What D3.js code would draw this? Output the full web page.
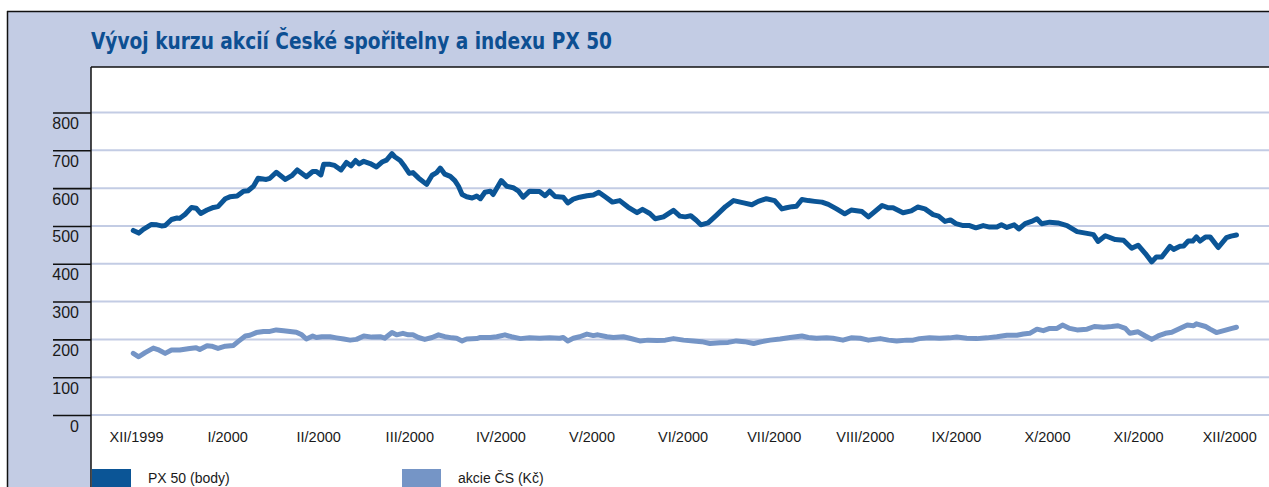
<!DOCTYPE html>
<html>
<head>
<meta charset="utf-8">
<script src="https://cdn.jsdelivr.net/npm/d3@7"></script>
<style>
	body { margin: 0; background: #fff; overflow: hidden; }
	svg { display: block; }
	.title { font-family: "Liberation Sans Narrow", "DejaVu Sans Condensed", sans-serif; font-weight: bold; fill: #0d4f92; }
	.lbl { font-family: "Liberation Sans", Arial, sans-serif; fill: #1a1a1a; }
</style>
</head>
<body>
<svg width="1269" height="487"></svg>
<script>

// month labels, one per month from XII/1999
var months = ["XII/1999", "I/2000", "II/2000", "III/2000", "IV/2000", "V/2000", "VI/2000",
	"VII/2000", "VIII/2000", "IX/2000", "X/2000", "XI/2000", "XII/2000"];

var yTicks = [0, 100, 200, 300, 400, 500, 600, 700, 800];

// [months since start of XII/1999, value]
var px50 = [
	[-0.03,488],[0.03,481],[0.08,491],[0.17,504],[0.23,503],[0.28,500],[0.32,501],[0.39,517],[0.45,521],[0.48,520],
	[0.54,531],[0.61,549],[0.66,547],[0.71,533],[0.78,542],[0.85,549],[0.90,551],[0.98,572],[1.03,577],[1.11,579],
	[1.18,592],[1.23,593],[1.29,605],[1.34,626],[1.43,623],[1.47,626],[1.54,642],[1.64,623],[1.71,633],[1.77,648],
	[1.87,630],[1.94,644],[1.98,644],[2.03,635],[2.06,663],[2.13,663],[2.18,660],[2.25,648],[2.31,668],[2.36,659],
	[2.41,673],[2.45,664],[2.50,671],[2.57,665],[2.64,656],[2.70,669],[2.75,674],[2.81,691],[2.84,683],[2.90,673],
	[2.95,657],[3.00,639],[3.04,641],[3.10,627],[3.19,610],[3.25,634],[3.30,641],[3.34,653],[3.39,637],[3.45,631],
	[3.50,620],[3.54,605],[3.58,583],[3.63,577],[3.69,574],[3.74,579],[3.78,572],[3.83,589],[3.89,592],[3.92,583],
	[4.01,620],[4.07,605],[4.14,601],[4.20,592],[4.25,576],[4.32,592],[4.43,591],[4.49,580],[4.54,592],[4.60,578],
	[4.69,576],[4.74,561],[4.80,571],[4.87,576],[4.95,580],[5.02,582],[5.08,589],[5.15,577],[5.23,563],[5.31,567],
	[5.40,550],[5.50,535],[5.56,544],[5.64,533],[5.70,519],[5.79,524],[5.90,541],[5.97,526],[6.03,524],[6.09,527],
	[6.15,515],[6.20,503],[6.28,508],[6.37,528],[6.47,551],[6.56,567],[6.67,561],[6.76,556],[6.83,565],[6.92,572],
	[7.01,567],[7.09,545],[7.14,548],[7.20,551],[7.25,552],[7.31,570],[7.38,567],[7.45,565],[7.53,563],[7.60,557],
	[7.69,545],[7.78,532],[7.85,542],[7.97,538],[8.04,524],[8.19,554],[8.26,548],[8.31,548],[8.42,535],[8.51,540],
	[8.58,550],[8.66,545],[8.75,530],[8.81,526],[8.88,512],[8.94,516],[9.00,506],[9.08,501],[9.15,501],[9.22,495],
	[9.30,501],[9.37,497],[9.45,497],[9.50,503],[9.56,496],[9.64,503],[9.69,492],[9.76,506],[9.83,512],[9.89,519],
	[9.94,506],[10.03,510],[10.12,508],[10.22,501],[10.33,485],[10.47,479],[10.51,477],[10.56,459],[10.64,474],[10.75,464],
	[10.84,462],[10.93,441],[11.00,449],[11.08,427],[11.15,405],[11.20,418],[11.26,418],[11.35,446],[11.39,438],[11.46,446],
	[11.50,447],[11.55,460],[11.60,460],[11.64,471],[11.68,460],[11.74,471],[11.79,471],[11.88,443],[11.97,469],[12.02,473],
	[12.08,476]
];

var akcieCS = [
	[-0.03,163],[0.03,154],[0.10,165],[0.19,177],[0.24,173],[0.32,163],[0.39,172],[0.48,172],[0.59,176],[0.66,178],
	[0.70,173],[0.78,183],[0.83,182],[0.90,176],[0.98,182],[1.07,184],[1.12,194],[1.20,209],[1.25,211],[1.32,218],
	[1.40,221],[1.47,221],[1.54,225],[1.62,223],[1.69,221],[1.76,219],[1.82,212],[1.87,201],[1.94,209],[1.98,205],
	[2.04,207],[2.13,207],[2.20,204],[2.28,201],[2.35,198],[2.42,200],[2.50,209],[2.59,206],[2.68,207],[2.73,203],
	[2.81,218],[2.86,212],[2.93,216],[2.99,212],[3.04,212],[3.10,205],[3.17,200],[3.25,205],[3.32,212],[3.39,207],
	[3.47,204],[3.52,203],[3.58,196],[3.63,201],[3.74,202],[3.78,205],[3.89,205],[3.96,207],[4.05,212],[4.12,207],
	[4.22,202],[4.32,204],[4.43,203],[4.54,204],[4.65,203],[4.69,205],[4.74,196],[4.80,203],[4.87,207],[4.95,214],
	[5.02,210],[5.07,212],[5.17,207],[5.24,205],[5.35,207],[5.42,203],[5.53,196],[5.62,198],[5.72,197],[5.81,198],
	[5.90,202],[6.01,198],[6.12,196],[6.21,194],[6.30,189],[6.41,191],[6.50,192],[6.59,196],[6.68,194],[6.78,189],
	[6.87,194],[6.96,198],[7.07,201],[7.18,205],[7.31,209],[7.38,205],[7.47,203],[7.58,204],[7.65,203],[7.76,198],
	[7.85,204],[7.95,203],[8.04,198],[8.17,202],[8.26,198],[8.35,196],[8.46,198],[8.53,198],[8.60,202],[8.71,204],
	[8.82,203],[8.93,204],[9.01,206],[9.12,203],[9.23,202],[9.34,204],[9.45,207],[9.56,211],[9.67,211],[9.74,214],
	[9.81,216],[9.89,227],[9.96,223],[10.03,229],[10.11,229],[10.17,238],[10.25,229],[10.33,225],[10.44,227],[10.52,234],
	[10.62,232],[10.71,234],[10.78,236],[10.86,229],[10.91,216],[11.00,220],[11.08,209],[11.15,200],[11.22,209],[11.30,216],
	[11.37,219],[11.44,227],[11.54,238],[11.61,236],[11.64,241],[11.74,234],[11.79,227],[11.86,218],[11.97,225],[12.03,229],
	[12.08,232]
];

var seriesNames = ["PX 50 (body)", "akcie ČS (Kč)"];
var seriesColors = ["#0b5596", "#7595c6"];

var BAND = "#c3cce4";

var svg = d3.select("svg"),
	width = +svg.attr("width"),
	height = +svg.attr("height");

var plotLeft = 91, plotTop = 67;

var x = d3.scaleLinear()
	.domain([0, 12])
	.range([136, 136 + 12 * 91.1]);

var y = d3.scaleLinear()
	.domain([0, 800])
	.range([415, 112.5]);

// frame: header band and left band
svg.append("rect")
	.attr("x", 7).attr("y", 11)
	.attr("width", width - 7).attr("height", height - 11)
	.attr("fill", BAND);

svg.append("rect")
	.attr("x", plotLeft).attr("y", plotTop)
	.attr("width", width - plotLeft).attr("height", height - plotTop)
	.attr("fill", "#fff");

svg.append("text")
	.attr("class", "title")
	.attr("x", plotLeft)
	.attr("y", 48.5)
	.attr("font-size", 23)
	.attr("textLength", 521)
	.attr("lengthAdjust", "spacingAndGlyphs")
	.text("Vývoj kurzu akcií České spořitelny a indexu PX 50");

// gridlines
svg.append("g")
	.selectAll("line")
	.data(yTicks)
	.enter().append("line")
	.attr("x1", plotLeft)
	.attr("x2", width)
	.attr("y1", function (d) { return y(d); })
	.attr("y2", function (d) { return y(d); })
	.attr("stroke", BAND)
	.attr("stroke-width", 2);

// y axis, ticks sit in the left band with the label under them
var yAxis = svg.append("g")
	.attr("transform", "translate(" + plotLeft + ",0)")
	.call(d3.axisLeft(y).tickValues(yTicks).tickSize(38).tickFormat(d3.format("d")));

yAxis.select(".domain").remove();
yAxis.selectAll(".tick line")
	.attr("stroke", "#111")
	.attr("stroke-width", 1.6);
yAxis.selectAll(".tick text")
	.attr("class", "lbl")
	.attr("x", -12)
	.attr("dy", "1em")
	.attr("font-size", 16)
	.attr("fill", "#1a1a1a");

// x axis labels
var xAxis = svg.append("g")
	.attr("transform", "translate(0,425)")
	.call(d3.axisBottom(x)
		.tickValues(d3.range(months.length))
		.tickSize(0)
		.tickFormat(function (d) { return months[d]; }));

xAxis.select(".domain").remove();
xAxis.selectAll(".tick text")
	.attr("class", "lbl")
	.attr("y", 0)
	.attr("dy", "1.2em")
	.attr("font-size", 14.5)
	.attr("fill", "#1a1a1a");

// lines
var line = d3.line()
	.x(function (d) { return x(d[0]); })
	.y(function (d) { return y(d[1]); });

svg.append("path")
	.datum(akcieCS)
	.attr("d", line)
	.attr("fill", "none")
	.attr("stroke", seriesColors[1])
	.attr("stroke-width", 5)
	.attr("stroke-linejoin", "round")
	.attr("stroke-linecap", "round");

svg.append("path")
	.datum(px50)
	.attr("d", line)
	.attr("fill", "none")
	.attr("stroke", seriesColors[0])
	.attr("stroke-width", 5)
	.attr("stroke-linejoin", "round")
	.attr("stroke-linecap", "round");

// borders
svg.append("line")
	.attr("x1", 7).attr("x2", width).attr("y1", 11.5).attr("y2", 11.5)
	.attr("stroke", "#111").attr("stroke-width", 1.5);
svg.append("line")
	.attr("x1", 7.5).attr("x2", 7.5).attr("y1", 11).attr("y2", height)
	.attr("stroke", "#111").attr("stroke-width", 1.5);
svg.append("line")
	.attr("x1", plotLeft).attr("x2", width).attr("y1", plotTop).attr("y2", plotTop)
	.attr("stroke", "#111").attr("stroke-width", 1.5);
svg.append("line")
	.attr("x1", plotLeft).attr("x2", plotLeft).attr("y1", plotTop).attr("y2", height)
	.attr("stroke", "#111").attr("stroke-width", 1.5);

// legend
var legendX = [92, 402];
var legend = svg.append("g")
	.selectAll("g")
	.data(seriesNames)
	.enter().append("g")
	.attr("transform", function (d, i) { return "translate(" + legendX[i] + ",469)"; });

legend.append("rect")
	.attr("width", 39)
	.attr("height", 18)
	.attr("fill", function (d, i) { return seriesColors[i]; });

legend.append("text")
	.attr("class", "lbl")
	.attr("x", 56)
	.attr("y", 14)
	.attr("font-size", 14)
	.text(function (d) { return d; });

</script>
</body>
</html>
